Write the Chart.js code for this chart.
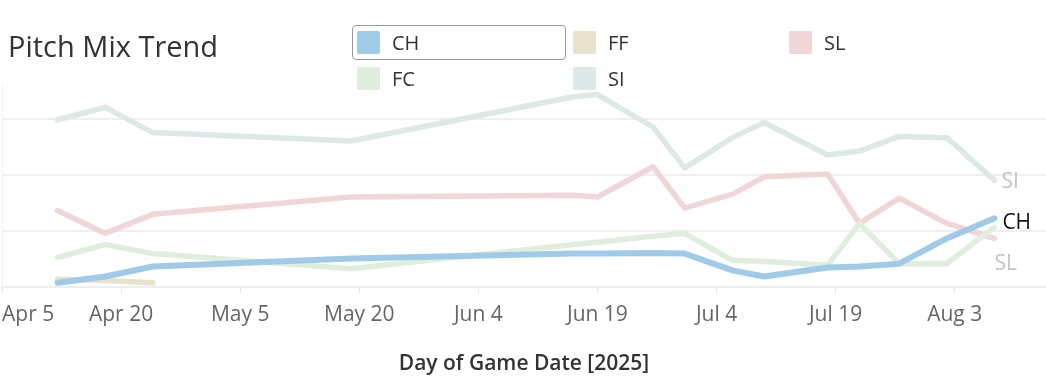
<!DOCTYPE html>
<html>
<head>
<meta charset="utf-8">
<script src="https://cdn.jsdelivr.net/npm/chart.js@4.4.1/dist/chart.umd.min.js"></script>
<style>
  html, body { margin: 0; padding: 0; background: #fff; }
  #wrap { position: relative; width: 1046px; height: 380px; overflow: hidden; font-family: "Open Sans", sans-serif; }
  #chart { position: absolute; left: 0; top: 0; }
  #title { position: absolute; left: 8px; top: 31px; font-size: 29px; color: #333; line-height: 1; white-space: nowrap; }
  .lg { position: absolute; font-size: 20px; color: #333; line-height: 23px; white-space: nowrap; }
  .sw { position: absolute; width: 23px; height: 23px; border-radius: 2px; }
  #sel { position: absolute; left: 352px; top: 25px; width: 212px; height: 33px; border: 1.5px solid #999; border-radius: 4px; }
</style>
</head>
<body>
<div id="wrap">
  <canvas id="chart" width="1046" height="380"></canvas>
  <div id="title">Pitch Mix Trend</div>
  <div id="legend"></div>
</div>
<script>
// ---- data ----
const gameDates = ['2025-04-12','2025-04-18','2025-04-24','2025-05-19','2025-06-16','2025-06-19','2025-06-26','2025-06-30','2025-07-06','2025-07-10','2025-07-18','2025-07-22','2025-07-27','2025-08-02','2025-08-08'];
const pitchTypes = ['CH','FF','SL','FC','SI'];
const chValues = [0.7, 1.8, 3.6, 5.0, 5.9, 5.9, 6.0, 5.9, 2.9, 1.8, 3.4, 3.6, 4.1, 8.6, 12.2];
const ffValues = [1.3, 1.1, 0.7];
const slValues = [13.6, 9.5, 12.9, 16.0, 16.3, 16.0, 21.4, 14.0, 16.5, 19.6, 20.1, 11.3, 15.8, 11.3, 8.6];
const fcValues = [5.2, 7.5, 5.9, 3.2, 7.5, 7.9, 9.0, 9.5, 4.7, 4.5, 3.8, 11.3, 4.1, 4.1, 10.6];
const siValues = [29.8, 32.0, 27.5, 26.0, 33.9, 34.3, 28.5, 21.2, 26.6, 29.3, 23.5, 24.2, 26.8, 26.6, 19.0];
const tickLabels = ['Apr 5','Apr 20','May 5','May 20','Jun 4','Jun 19','Jul 4','Jul 19','Aug 3'];
const axisStart = '2025-04-05';

// ---- helpers ----
const DAY = 86400000;
const dayOf = s => Math.round((Date.parse(s + 'T00:00:00Z') - Date.parse(axisStart + 'T00:00:00Z')) / DAY);
const pts = vals => vals.map((v, i) => ({ x: dayOf(gameDates[i]), y: v }));

const colors = { CH: '#9fcae8', FF: '#e8e2cd', SL: '#f1d6d7', FC: '#e0eedd', SI: '#dde9e6' };

// legend (HTML)
const legendPos = { CH: [357, 31], FF: [573, 31], SL: [789, 31], FC: [357, 67], SI: [573, 67] };
const lg = document.getElementById('legend');
lg.innerHTML = '<div id="sel"></div>' + pitchTypes.map(p => {
  const [x, y] = legendPos[p];
  return `<div class="sw" style="left:${x}px;top:${y}px;background:${colors[p]}"></div>` +
         `<div class="lg" style="left:${x + 35}px;top:${y}px">${p}</div>`;
}).join('');

const ds = (label, vals, width, order) => ({
  label, data: pts(vals), borderColor: colors[label], backgroundColor: colors[label],
  borderWidth: width, pointRadius: 0, pointHoverRadius: 0, tension: 0,
  borderCapStyle: 'round', borderJoinStyle: 'round', order
});

const endLabels = [
  { series: 'SI', text: 'SI', dx: 7, dy: 2, color: '#c4c4c4' },
  { series: 'CH', text: 'CH', dx: 8, dy: 5, color: '#111' },
  { series: 'SL', text: 'SL', dx: 0, dy: 26, color: '#c4c4c4' }
];

const endLabelPlugin = {
  id: 'endLabels',
  afterDatasetsDraw(chart) {
    const ctx = chart.ctx;
    ctx.save();
    ctx.font = '21px "Open Sans"';
    ctx.textBaseline = 'middle';
    ctx.textAlign = 'left';
    endLabels.forEach(l => {
      const idx = chart.data.datasets.findIndex(d => d.label === l.series);
      const meta = chart.getDatasetMeta(idx);
      const p = meta.data[meta.data.length - 1];
      ctx.fillStyle = l.color;
      ctx.fillText(l.text, p.x + l.dx, p.y + l.dy);
    });
    ctx.restore();
  }
};

const firstTickPlugin = {
  id: 'firstTick',
  afterDraw(chart) {
    const sx = chart.scales.x;
    const ctx = chart.ctx;
    ctx.save();
    ctx.font = '21px "Open Sans"';
    ctx.fillStyle = '#666';
    ctx.textAlign = 'left';
    ctx.textBaseline = 'middle';
    ctx.fillText(tickLabels[0], sx.getPixelForValue(0), sx.top + 7 + 9 + 12);
    ctx.restore();
  }
};

new Chart(document.getElementById('chart'), {
  type: 'line',
  data: {
    datasets: [
      ds('SI', siValues, 5.5, 5),
      ds('SL', slValues, 5.5, 4),
      ds('FC', fcValues, 5.5, 3),
      ds('FF', ffValues, 5.5, 2),
      ds('CH', chValues, 6, 1)
    ]
  },
  options: {
    responsive: false,
    animation: false,
    events: [],
    layout: { padding: { top: 85, left: 2, right: 0, bottom: 0 } },
    plugins: { legend: { display: false }, tooltip: { enabled: false } },
    scales: {
      x: {
        type: 'linear',
        min: 0,
        max: 131.5,
        afterBuildTicks: s => { s.ticks = tickLabels.map((t, i) => ({ value: i * 15 })); },
        afterFit: s => { s.paddingLeft = 0; s.paddingRight = 0; },
        ticks: {
          autoSkip: false, maxRotation: 0, padding: 9,
          font: { family: 'Open Sans', size: 21 }, color: '#666',
          callback: (v) => { const i = Math.round(v / 15); return i === 0 ? '' : tickLabels[i]; }
        },
        grid: { drawOnChartArea: false, tickLength: 7, color: '#e6e6e6', lineWidth: 1 },
        border: { display: true, color: '#eeeeee', width: 2 },
        title: {
          display: true, text: 'Day of Game Date [2025]', color: '#333',
          font: { family: 'Open Sans', size: 21, weight: '600' },
          padding: { top: 15, bottom: 3 }
        }
      },
      y: {
        min: 0, max: 36,
        afterFit: s => { s.width = 0; },
        ticks: { display: false, stepSize: 10 },
        grid: {
          drawTicks: false, lineWidth: 2,
          color: c => (c.tick && c.tick.value > 30) ? 'rgba(0,0,0,0)' : '#efefef'
        },
        border: { display: true, color: '#f0f0f0', width: 1 }
      }
    }
  },
  plugins: [endLabelPlugin, firstTickPlugin]
});
</script>
</body>
</html>
